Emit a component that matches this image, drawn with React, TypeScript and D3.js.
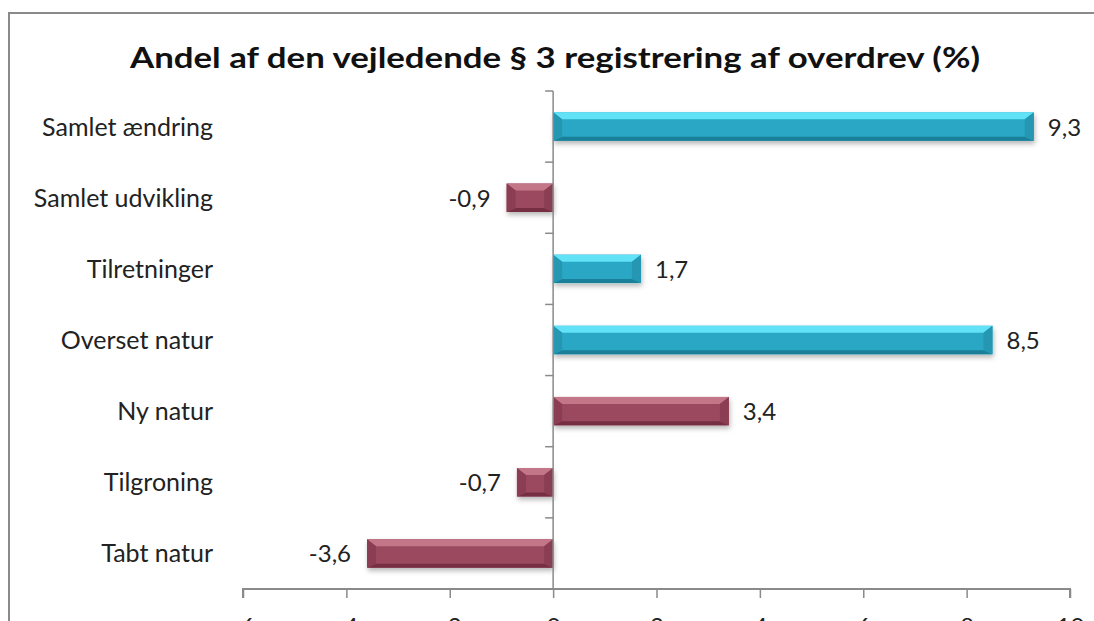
import React, { useEffect, useRef } from 'react'
import * as d3 from 'd3'

const title = 'Andel af den vejledende § 3 registrering af overdrev (%)'
const categories = [
  'Samlet ændring',
  'Samlet udvikling',
  'Tilretninger',
  'Overset natur',
  'Ny natur',
  'Tilgroning',
  'Tabt natur',
]
const values = [9.3, -0.9, 1.7, 8.5, 3.4, -0.7, -3.6]
// which colour group each bar belongs to
const groups = ['sum', 'part', 'sum', 'sum', 'part', 'part', 'part']
const xTicks = [-6, -4, -2, 0, 2, 4, 6, 8, 10]

const palette: Record<string, { top: string; front: string; bottom: string; side: string }> = {
  sum: { top: '#62e2f7', front: '#29a7c4', bottom: '#1b7f99', side: '#2597b3' },
  part: { top: '#c47689', front: '#9a4a5e', bottom: '#742f43', side: '#8b3e52' },
}

const W = 1094
const H = 621
const margin = { top: 91, right: 24, bottom: 32, left: 243 }

// Excel style number: one decimal, comma, plain hyphen
const fmt = (v: number) => v.toFixed(1).replace('.', ',')

const App: React.FC = () => {
  const svgRef = useRef<SVGSVGElement>(null)

  useEffect(() => {
    if (!svgRef.current) return
    const svg = d3.select(svgRef.current)
    svg.selectAll('*').remove()

    const font = 'Lato, Calibri, sans-serif'
    const x = d3.scaleLinear().domain([-6, 10]).range([margin.left, W - margin.right])
    const y = d3.scaleBand().domain(categories).range([margin.top, H - margin.bottom])
    const barH = y.bandwidth() * 0.4

    // drop shadow for the bars
    const defs = svg.append('defs')
    const f = defs.append('filter').attr('id', 'shadow').attr('x', '-10%').attr('y', '-30%').attr('width', '120%').attr('height', '180%')
    f.append('feDropShadow').attr('dx', 1).attr('dy', 3).attr('stdDeviation', 2.5).attr('flood-color', '#000').attr('flood-opacity', 0.28)

    // chart frame (only top/left visible in the crop)
    svg.append('rect')
      .attr('x', 9).attr('y', 13)
      .attr('width', W + 20).attr('height', H + 20)
      .attr('fill', '#fff').attr('stroke', '#8a8a8a').attr('stroke-width', 2)

    // title
    svg.append('text')
      .attr('x', 555).attr('y', 68)
      .attr('text-anchor', 'middle')
      .attr('font-family', font).attr('font-weight', 'bold').attr('font-size', 29)
      .attr('textLength', 850).attr('lengthAdjust', 'spacingAndGlyphs')
      .attr('fill', '#111')
      .text(title)

    const data = categories.map((c, i) => ({ cat: c, value: values[i], group: groups[i] }))

    // bars with a bevel look
    const bars = svg.append('g').attr('filter', 'url(#shadow)')
    data.forEach((d) => {
      const x0 = Math.min(x(0), x(d.value))
      const x1 = Math.max(x(0), x(d.value))
      const y0 = (y(d.cat) || 0) + (y.bandwidth() - barH) / 2
      const y1 = y0 + barH
      const bx = Math.min(9, (x1 - x0) / 2)
      const by = 7
      const c = palette[d.group]
      const pts = (p: number[][]) => p.map((q) => q.join(',')).join(' ')
      const g = bars.append('g')
      g.append('rect').attr('x', x0).attr('y', y0).attr('width', x1 - x0).attr('height', barH).attr('fill', c.front)
      g.append('polygon').attr('points', pts([[x0, y0], [x1, y0], [x1 - bx, y0 + by], [x0 + bx, y0 + by]])).attr('fill', c.top)
      g.append('polygon').attr('points', pts([[x0, y1], [x1, y1], [x1 - bx, y1 - 4], [x0 + bx, y1 - 4]])).attr('fill', c.bottom)
      g.append('polygon').attr('points', pts([[x0, y0], [x0 + bx, y0 + by], [x0 + bx, y1 - 4], [x0, y1]])).attr('fill', c.side)
      g.append('polygon').attr('points', pts([[x1, y0], [x1 - bx, y0 + by], [x1 - bx, y1 - 4], [x1, y1]])).attr('fill', c.side)
    })

    // value labels
    svg.append('g').selectAll('text')
      .data(data).enter().append('text')
      .attr('x', (d) => (d.value >= 0 ? x(d.value) + 14 : x(d.value) - 16))
      .attr('y', (d) => (y(d.cat) || 0) + y.bandwidth() / 2 + 9)
      .attr('text-anchor', (d) => (d.value >= 0 ? 'start' : 'end'))
      .attr('font-family', font).attr('font-size', 24).attr('fill', '#222')
      .text((d) => fmt(d.value))

    // category labels
    svg.append('g').selectAll('text')
      .data(categories).enter().append('text')
      .attr('x', 213)
      .attr('y', (d) => (y(d) || 0) + y.bandwidth() / 2 + 9)
      .attr('text-anchor', 'end')
      .attr('font-family', font).attr('font-size', 25).attr('fill', '#222')
      .text((d) => d)

    const axisColor = '#8a8a8a'

    // vertical axis at zero with ticks at band edges
    const yEdges = categories.map((c) => y(c) || 0).concat([H - margin.bottom])
    const va = svg.append('g')
    va.append('line')
      .attr('x1', x(0)).attr('x2', x(0))
      .attr('y1', margin.top).attr('y2', H - margin.bottom)
      .attr('stroke', axisColor).attr('stroke-width', 1.5)
    va.selectAll('line.tick').data(yEdges).enter().append('line')
      .attr('class', 'tick')
      .attr('x1', x(0) - 8).attr('x2', x(0))
      .attr('y1', (d) => d).attr('y2', (d) => d)
      .attr('stroke', axisColor).attr('stroke-width', 1.5)

    // horizontal axis (labels are cut by the bottom edge, as in the source crop)
    const xAxis = d3.axisBottom(x).tickValues(xTicks).tickSize(9).tickPadding(20)
      .tickFormat((d) => String(d))
    const xa = svg.append('g')
      .attr('transform', `translate(0,${H - margin.bottom})`)
      .call(xAxis)
    xa.select('.domain').attr('stroke', axisColor).attr('stroke-width', 2).attr('d', `M${x(-6)},9V0H${x(10)}V9`)
    xa.selectAll('.tick line').attr('stroke', axisColor).attr('stroke-width', 1.5)
    xa.selectAll('.tick text')
      .attr('font-family', font).attr('font-size', 24).attr('fill', '#222')
  }, [])

  return (
    <svg
      ref={svgRef}
      width={W}
      height={H}
      style={{ position: 'fixed', top: 0, left: 0, background: '#fff' }}
    />
  )
}

export default App
